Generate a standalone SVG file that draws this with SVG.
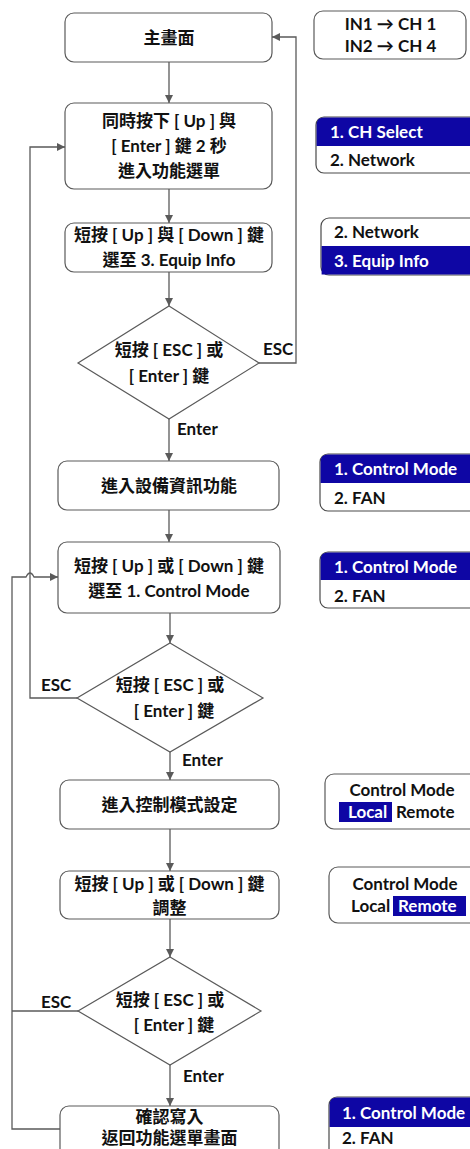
<svg xmlns="http://www.w3.org/2000/svg" width="470" height="1149" viewBox="0 0 470 1149">
<defs>
<style>
.box{fill:#fff;stroke:#5a5a5a;stroke-width:1.2}
.menu{fill:#fff;stroke:#4a4a4a;stroke-width:1.2}
.blue{fill:#0e06a4}
.ln{fill:none;stroke:#5a5a5a;stroke-width:1.3}
text{font-family:"Lato","Noto Sans CJK TC",sans-serif;font-weight:bold;font-size:17px;fill:#111}
.c{text-anchor:middle}
.w{fill:#fff}
</style>
<marker id="ah" markerWidth="10" markerHeight="10" refX="8" refY="4" orient="auto" markerUnits="userSpaceOnUse">
<path d="M0,0 L8,4 L0,8 Z" fill="#5a5a5a"/>
</marker>
</defs>

<g id="connectors">
<line class="ln" x1="169" y1="62" x2="169" y2="103" marker-end="url(#ah)"/>
<line class="ln" x1="169" y1="189" x2="169" y2="223" marker-end="url(#ah)"/>
<line class="ln" x1="169" y1="272" x2="169" y2="306" marker-end="url(#ah)"/>
<line class="ln" x1="169" y1="419" x2="169" y2="461" marker-end="url(#ah)"/>
<line class="ln" x1="169" y1="510" x2="169" y2="542" marker-end="url(#ah)"/>
<line class="ln" x1="170" y1="613" x2="170" y2="643" marker-end="url(#ah)"/>
<line class="ln" x1="170" y1="752" x2="170" y2="780" marker-end="url(#ah)"/>
<line class="ln" x1="170" y1="829" x2="170" y2="871" marker-end="url(#ah)"/>
<line class="ln" x1="170" y1="919" x2="170" y2="957" marker-end="url(#ah)"/>
<line class="ln" x1="170" y1="1065" x2="170" y2="1106" marker-end="url(#ah)"/>
<polyline class="ln" points="259,363 296,363 296,37 272,37" marker-end="url(#ah)"/>
<polyline class="ln" points="77,698 30,698 30,147 65,147" marker-end="url(#ah)"/>
<path class="ln" d="M60,1129 H12 V577 H26 Q30,569 34,577 H58" marker-end="url(#ah)"/>
<line class="ln" x1="78" y1="1011" x2="12" y2="1011"/>
<text x="263" y="355">ESC</text>
<text x="177" y="435">Enter</text>
<text x="41" y="691">ESC</text>
<text x="182" y="766">Enter</text>
<text x="41" y="1008">ESC</text>
<text x="183" y="1082">Enter</text>
</g>

<g id="n-main">
<rect class="box" x="65" y="13" width="207" height="49" rx="9"/>
<text class="c" x="169" y="44">主畫面</text>
</g>
<g id="n-enter-menu">
<rect class="box" x="65" y="103" width="207" height="86" rx="9"/>
<text class="c" x="169" y="127">同時按下 [ Up ] 與</text>
<text class="c" x="169" y="152">[ Enter ] 鍵 2 秒</text>
<text class="c" x="169" y="177">進入功能選單</text>
</g>
<g id="n-select-equip">
<rect class="box" x="65" y="223" width="207" height="49" rx="9"/>
<text class="c" x="169" y="241">短按 [ Up ] 與 [ Down ] 鍵</text>
<text class="c" x="169" y="266">選至 3. Equip Info</text>
</g>
<g id="n-dec1">
<polygon class="box" points="169,306 259,363 169,419 78,363"/>
<text class="c" x="169" y="356">短按 [ ESC ] 或</text>
<text class="c" x="169" y="382">[ Enter ] 鍵</text>
</g>
<g id="n-equip-info">
<rect class="box" x="58" y="461" width="221" height="49" rx="9"/>
<text class="c" x="169" y="492">進入設備資訊功能</text>
</g>
<g id="n-select-cm">
<rect class="box" x="58" y="542" width="222" height="71" rx="9"/>
<text class="c" x="169" y="572">短按 [ Up ] 或 [ Down ] 鍵</text>
<text class="c" x="169" y="597">選至 1. Control Mode</text>
</g>
<g id="n-dec2">
<polygon class="box" points="170,643 263,698 170,752 77,698"/>
<text class="c" x="170" y="691">短按 [ ESC ] 或</text>
<text class="c" x="174" y="717">[ Enter ] 鍵</text>
</g>
<g id="n-cm-set">
<rect class="box" x="60" y="780" width="219" height="49" rx="9"/>
<text class="c" x="169.5" y="811">進入控制模式設定</text>
</g>
<g id="n-adjust">
<rect class="box" x="60" y="871" width="219" height="48" rx="9"/>
<text class="c" x="169.5" y="890">短按 [ Up ] 或 [ Down ] 鍵</text>
<text class="c" x="169.5" y="914">調整</text>
</g>
<g id="n-dec3">
<polygon class="box" points="170,957 261,1011 170,1065 78,1011"/>
<text class="c" x="170" y="1006">短按 [ ESC ] 或</text>
<text class="c" x="174" y="1031">[ Enter ] 鍵</text>
</g>
<g id="n-confirm">
<rect class="box" x="60" y="1106" width="219" height="60" rx="9"/>
<text class="c" x="169.5" y="1123">確認寫入</text>
<text class="c" x="169.5" y="1144">返回功能選單畫面</text>
</g>

<g id="s-main">
<rect class="box" x="314" y="11" width="152" height="48" rx="9"/>
<text class="c" x="390.5" y="30">IN1 → CH 1</text>
<text class="c" x="390.5" y="52">IN2 → CH 4</text>
</g>
<g id="s-menu1">
<rect class="menu" x="316" y="117" width="170" height="56" rx="8"/>
<path class="blue" d="M316.6,146 V125 Q316.6,117.6 324,117.6 H480 V146 Z"/>
<text class="w" x="330" y="138">1. CH Select</text>
<text x="330" y="166">2. Network</text>
</g>
<g id="s-menu2">
<rect class="menu" x="321" y="218" width="170" height="57" rx="8"/>
<path class="blue" d="M321.6,246 H480 V274.4 H321.6 Z"/>
<text x="334" y="238">2. Network</text>
<text class="w" x="334" y="267">3. Equip Info</text>
</g>
<g id="s-menu3">
<rect class="menu" x="320" y="454" width="170" height="57" rx="8"/>
<path class="blue" d="M320.6,483 V462 Q320.6,454.6 328,454.6 H480 V483 Z"/>
<text class="w" x="334" y="475">1. Control Mode</text>
<text x="334" y="504">2. FAN</text>
</g>
<g id="s-menu4">
<rect class="menu" x="320" y="552" width="170" height="56" rx="8"/>
<path class="blue" d="M320.6,580 V560 Q320.6,552.6 328,552.6 H480 V580 Z"/>
<text class="w" x="334" y="573">1. Control Mode</text>
<text x="334" y="602">2. FAN</text>
</g>
<g id="s-cm1">
<rect class="box" x="325" y="774" width="160" height="55" rx="9"/>
<text class="c" x="402" y="796">Control Mode</text>
<rect class="blue" x="339" y="802" width="53" height="20"/>
<text class="w" x="348" y="818">Local</text>
<text x="396" y="818">Remote</text>
</g>
<g id="s-cm2">
<rect class="box" x="329" y="867" width="160" height="56" rx="9"/>
<text class="c" x="405" y="890">Control Mode</text>
<text x="351" y="912">Local</text>
<rect class="blue" x="393" y="896" width="73" height="20"/>
<text class="w" x="398" y="912">Remote</text>
</g>
<g id="s-menu5">
<rect class="menu" x="329" y="1097" width="160" height="70" rx="8"/>
<path class="blue" d="M329.6,1127 V1105 Q329.6,1097.6 337,1097.6 H480 V1127 Z"/>
<text class="w" x="342" y="1119">1. Control Mode</text>
<text x="342" y="1144">2. FAN</text>
</g>
</svg>
